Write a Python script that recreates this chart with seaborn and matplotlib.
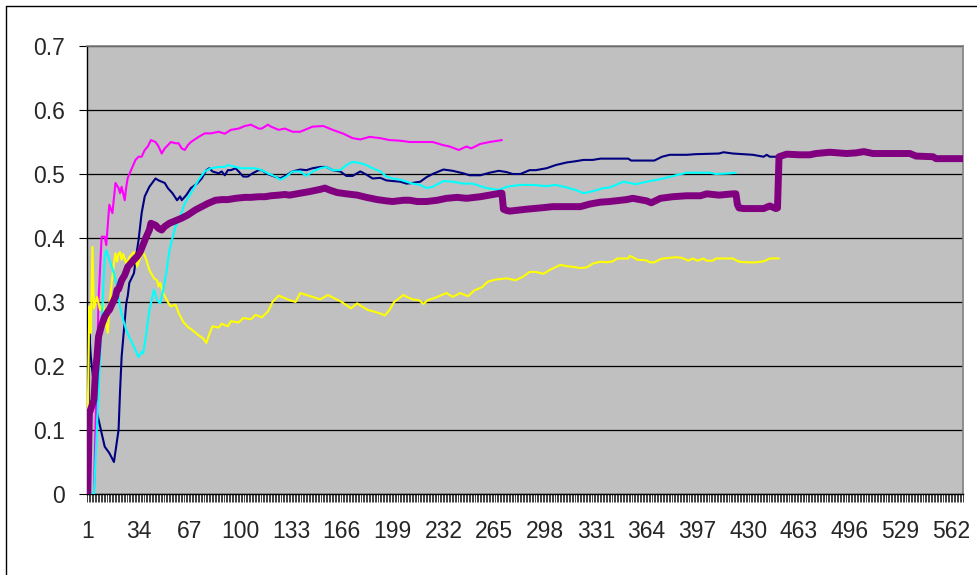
import matplotlib
matplotlib.use("Agg")
import matplotlib.pyplot as plt
import numpy as np
import pandas as pd
import seaborn as sns
from matplotlib.lines import Line2D

# ---------------- data (category index, value) ----------------
n_categories = 569
x_tick_labels = ["1", "34", "67", "100", "133", "166", "199", "232", "265",
                 "298", "331", "364", "397", "430", "463", "496", "529", "562"]
y_tick_values = [0.0, 0.1, 0.2, 0.3, 0.4, 0.5, 0.6, 0.7]
y_tick_labels = ["0", "0.1", "0.2", "0.3", "0.4", "0.5", "0.6", "0.7"]

navy_x = [1, 2, 3, 6, 7, 10, 12, 15, 18, 21, 22, 23, 26, 27, 28, 31, 33, 34, 36, 38, 41, 45,
          47, 49, 51, 53, 56, 59, 61, 62, 65, 68, 72, 75, 78, 80, 82, 86, 88, 90, 92, 94, 97,
          99, 102, 105, 108, 112, 114, 117, 120, 126, 130, 134, 139, 143, 147, 152, 156, 160,
          165, 169, 173, 178, 182, 186, 191, 195, 199, 204, 208, 212, 217, 221, 225, 232, 238,
          245, 249, 256, 262, 268, 273, 277, 282, 288, 292, 299, 305, 312, 318, 323, 329, 334,
          352, 354, 369, 374, 379, 390, 396, 411, 414, 420, 433, 440, 442, 444, 449]
navy_y = [0.0, 0.252, 0.214, 0.147, 0.127, 0.095, 0.074, 0.064, 0.05, 0.1, 0.1625, 0.215, 0.298,
          0.31, 0.33, 0.345, 0.381, 0.397, 0.439, 0.465, 0.48, 0.493, 0.49, 0.488, 0.486, 0.478,
          0.47, 0.459, 0.465, 0.459, 0.467, 0.478, 0.485, 0.493, 0.506, 0.509, 0.504, 0.501,
          0.504, 0.498, 0.506, 0.506, 0.509, 0.504, 0.496, 0.496, 0.501, 0.506, 0.506, 0.501,
          0.498, 0.493, 0.498, 0.504, 0.507, 0.506, 0.509, 0.511, 0.511, 0.506, 0.504, 0.497,
          0.497, 0.504, 0.499, 0.493, 0.494, 0.49, 0.489, 0.488, 0.485, 0.486, 0.488, 0.495,
          0.5, 0.507, 0.505, 0.501, 0.498, 0.498, 0.502, 0.505, 0.503, 0.5, 0.5, 0.506, 0.506,
          0.509, 0.514, 0.518, 0.52, 0.522, 0.522, 0.524, 0.524, 0.521, 0.521, 0.527, 0.53,
          0.53, 0.531, 0.532, 0.534, 0.532, 0.53, 0.527, 0.53, 0.527, 0.527]

magenta_x = [1, 5, 8, 10, 12, 13, 15, 17, 19, 21, 22, 23, 25, 26, 27, 30, 32, 34, 36, 38, 40,
             42, 45, 47, 49, 51, 53, 55, 58, 60, 62, 64, 66, 68, 73, 77, 81, 86, 90, 94, 99,
             103, 107, 112, 114, 118, 120, 123, 125, 129, 134, 139, 147, 154, 160, 167, 173,
             178, 184, 191, 197, 204, 210, 219, 225, 232, 236, 242, 247, 250, 256, 262, 270]
magenta_y = [0.0, 0.0, 0.303, 0.402, 0.402, 0.389, 0.452, 0.439, 0.486, 0.478, 0.47, 0.48,
             0.459, 0.48, 0.494, 0.511, 0.522, 0.527, 0.527, 0.5375, 0.543, 0.553, 0.55, 0.543,
             0.532, 0.54, 0.545, 0.55, 0.548, 0.548, 0.54, 0.5375, 0.545, 0.55, 0.558, 0.5635,
             0.5635, 0.566, 0.563, 0.569, 0.571, 0.575, 0.577, 0.571, 0.571, 0.577, 0.574,
             0.571, 0.569, 0.571, 0.566, 0.566, 0.574, 0.575, 0.569, 0.563, 0.556, 0.554, 0.558,
             0.556, 0.553, 0.552, 0.55, 0.55, 0.55, 0.545, 0.543, 0.5375, 0.543, 0.54, 0.547,
             0.55, 0.553]

yellow_x = [1, 2, 3, 4, 5, 7, 9, 11, 12, 14, 15, 17, 18, 19, 20, 21, 22, 23, 24, 26, 28, 31,
            33, 35, 37, 39, 41, 44, 46, 47, 48, 50, 53, 55, 58, 60, 63, 66, 69, 73, 76, 78, 80,
            82, 86, 88, 92, 94, 99, 102, 107, 110, 114, 118, 121, 125, 129, 132, 136, 139, 143,
            147, 152, 157, 161, 166, 169, 172, 176, 179, 183, 187, 191, 194, 197, 200, 206, 209,
            212, 216, 219, 222, 226, 231, 234, 238, 243, 248, 252, 257, 261, 266, 273, 279, 284,
            288, 292, 297, 301, 308, 312, 316, 321, 325, 329, 334, 338, 342, 345, 352, 353, 355,
            358, 364, 366, 369, 373, 375, 383, 387, 391, 394, 397, 401, 403, 407, 409, 420, 424,
            429, 435, 440, 444, 450]
yellow_y = [0.125, 0.293, 0.252, 0.386, 0.29, 0.308, 0.2875, 0.298, 0.277, 0.252, 0.293, 0.34,
            0.36, 0.376, 0.363, 0.375, 0.378, 0.366, 0.375, 0.36, 0.37, 0.378, 0.355, 0.369,
            0.378, 0.366, 0.35, 0.337, 0.334, 0.324, 0.33, 0.314, 0.3, 0.293, 0.296, 0.283,
            0.269, 0.261, 0.256, 0.248, 0.243, 0.236, 0.25, 0.262, 0.26, 0.266, 0.262, 0.27,
            0.268, 0.275, 0.273, 0.28, 0.276, 0.285, 0.3, 0.31, 0.306, 0.303, 0.3, 0.314, 0.311,
            0.308, 0.304, 0.311, 0.306, 0.3, 0.295, 0.29, 0.298, 0.293, 0.2875, 0.285, 0.282,
            0.279, 0.2875, 0.3, 0.311, 0.307, 0.304, 0.303, 0.297, 0.303, 0.306, 0.311, 0.314,
            0.308, 0.314, 0.309, 0.318, 0.323, 0.332, 0.335, 0.337, 0.334, 0.34, 0.347, 0.347,
            0.344, 0.35, 0.358, 0.356, 0.355, 0.353, 0.354, 0.36, 0.363, 0.362, 0.3635, 0.368,
            0.368, 0.372, 0.37, 0.366, 0.365, 0.362, 0.362, 0.367, 0.368, 0.37, 0.369, 0.3645,
            0.368, 0.3645, 0.368, 0.3645, 0.3645, 0.368, 0.368, 0.363, 0.362, 0.362, 0.3635,
            0.368, 0.368]

cyan_x = [1, 5, 12, 13, 15, 18, 20, 22, 24, 26, 28, 31, 34, 36, 37, 39, 41, 44, 46, 48, 50,
          52, 54, 56, 58, 61, 64, 68, 73, 77, 81, 86, 90, 92, 97, 101, 105, 110, 114, 118, 123,
          126, 130, 134, 139, 143, 147, 152, 156, 160, 165, 169, 173, 178, 182, 186, 191, 195,
          199, 204, 208, 212, 217, 221, 225, 232, 238, 245, 251, 256, 260, 268, 273, 282, 290,
          299, 305, 312, 318, 323, 329, 336, 340, 349, 357, 364, 373, 383, 390, 405, 409, 418,
          422]
cyan_y = [0.0, 0.0, 0.37, 0.381, 0.366, 0.345, 0.324, 0.292, 0.272, 0.256, 0.245, 0.23, 0.214,
          0.222, 0.22, 0.251, 0.2875, 0.319, 0.303, 0.298, 0.319, 0.345, 0.38, 0.4, 0.418,
          0.433, 0.454, 0.47, 0.491, 0.504, 0.509, 0.511, 0.511, 0.514, 0.511, 0.509, 0.509,
          0.509, 0.506, 0.501, 0.496, 0.491, 0.496, 0.504, 0.504, 0.497, 0.504, 0.509, 0.511,
          0.506, 0.506, 0.514, 0.519, 0.517, 0.514, 0.509, 0.504, 0.496, 0.493, 0.491, 0.488,
          0.485, 0.483, 0.478, 0.48, 0.489, 0.488, 0.485, 0.485, 0.481, 0.478, 0.475, 0.48,
          0.483, 0.483, 0.481, 0.483, 0.479, 0.475, 0.47, 0.473, 0.478, 0.479, 0.488, 0.484,
          0.488, 0.492, 0.498, 0.502, 0.502, 0.5, 0.501, 0.502]

purple_x = [1, 2, 5, 6, 7, 8, 10, 12, 14, 15, 17, 18, 19, 20, 21, 23, 25, 27, 31, 33, 35, 37,
            39, 41, 42, 45, 47, 49, 51, 54, 58, 62, 66, 71, 75, 79, 84, 88, 92, 97, 103, 107,
            112, 116, 120, 125, 129, 132, 139, 145, 152, 155, 158, 163, 169, 176, 182, 189,
            195, 199, 206, 210, 215, 221, 228, 234, 241, 247, 256, 262, 269, 270, 271, 273,
            275, 286, 295, 303, 312, 321, 327, 334, 340, 351, 355, 364, 367, 373, 381, 390,
            399, 403, 411, 420, 422, 423, 424, 427, 440, 444, 448, 449, 450, 455, 463, 470,
            474, 483, 494, 500, 505, 511, 520, 535, 539, 550, 552, 569]
purple_y = [0.0, 0.126, 0.147, 0.189, 0.215, 0.246, 0.264, 0.277, 0.285, 0.2875, 0.298, 0.303,
            0.308, 0.319, 0.32, 0.334, 0.342, 0.355, 0.366, 0.371, 0.378, 0.39, 0.402, 0.4125,
            0.423, 0.42, 0.415, 0.4125, 0.418, 0.423, 0.427, 0.431, 0.436, 0.444, 0.449, 0.454,
            0.459, 0.46, 0.46, 0.462, 0.4635, 0.4635, 0.4645, 0.4645, 0.466, 0.467, 0.468,
            0.467, 0.47, 0.4725, 0.476, 0.478, 0.475, 0.471, 0.469, 0.467, 0.4635, 0.46, 0.458,
            0.457, 0.459, 0.459, 0.457, 0.457, 0.459, 0.462, 0.4635, 0.462, 0.4645, 0.467,
            0.47, 0.47, 0.445, 0.443, 0.442, 0.445, 0.447, 0.449, 0.449, 0.449, 0.453, 0.456,
            0.457, 0.46, 0.462, 0.458, 0.455, 0.462, 0.4645, 0.466, 0.466, 0.469, 0.467, 0.469,
            0.469, 0.452, 0.447, 0.446, 0.446, 0.45, 0.446, 0.447, 0.527, 0.531, 0.53, 0.53,
            0.532, 0.534, 0.532, 0.533, 0.535, 0.532, 0.532, 0.532, 0.528, 0.527, 0.524, 0.524]

# ---------------- styling ----------------
sns.set_style("white")
plt.rcParams["font.family"] = ["Liberation Sans", "DejaVu Sans"]

W, H = 978, 575
fig = plt.figure(figsize=(W / 100, H / 100), dpi=100)
fig.patch.set_facecolor("white")

left, right, top, bottom = 87, 963, 46, 494
ax = fig.add_axes([left / W, 1 - bottom / H, (right - left) / W, (bottom - top) / H])
ax.set_facecolor("#C0C0C0")

series = [
    (navy_x, navy_y, "#000080", 1.5),
    (magenta_x, magenta_y, "#FF00FF", 1.5),
    (yellow_x, yellow_y, "#FFFF00", 1.5),
    (cyan_x, cyan_y, "#00FFFF", 1.5),
    (purple_x, purple_y, "#800080", 5.0),
]
for i, (sx, sy, col, lw) in enumerate(series):
    df = pd.DataFrame({"cat": sx, "val": sy})
    sns.lineplot(data=df, x="cat", y="val", ax=ax, color=col, linewidth=lw,
                 estimator=None, sort=False, legend=False, zorder=3 + i)

ax.set_xlim(0.5, n_categories + 0.5)
ax.set_ylim(0, 0.7)
ax.set_xlabel("")
ax.set_ylabel("")

label_pos = [int(t) for t in x_tick_labels]
ax.set_xticks(label_pos)
ax.set_xticklabels(x_tick_labels, fontsize=16.5)
ax.set_xticks(np.arange(0.5, n_categories + 1, 1.0), minor=True)
ax.tick_params(axis="x", which="major", length=0, pad=19)
ax.tick_params(axis="x", which="minor", length=5.5, width=0.6, color="#202020",
               direction="out", bottom=True)

ax.set_yticks(y_tick_values)
ax.set_yticklabels(y_tick_labels, fontsize=16.5)
ax.tick_params(axis="y", which="major", length=5.8, width=0.8, color="black",
               direction="out", pad=10, left=True)

ax.yaxis.grid(True, color="black", linewidth=0.9)
ax.xaxis.grid(False)
ax.set_axisbelow(True)

for side in ["top", "right"]:
    ax.spines[side].set_color("#808080")
    ax.spines[side].set_linewidth(1.2)
for side in ["left", "bottom"]:
    ax.spines[side].set_color("#000000")
    ax.spines[side].set_linewidth(1.0)

# outer chart-area border (left and top edges visible)
fig.add_artist(Line2D([6.5 / W, 6.5 / W], [0, 1 - 5.5 / H], color="black", linewidth=1.0))
fig.add_artist(Line2D([6.5 / W, 1], [1 - 5.5 / H, 1 - 5.5 / H], color="black", linewidth=1.0))

fig.savefig("out.png", dpi=100, facecolor="white")
